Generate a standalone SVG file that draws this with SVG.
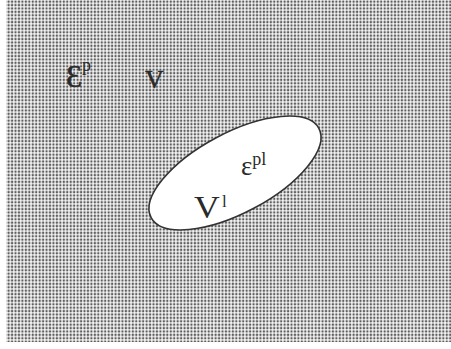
<svg xmlns="http://www.w3.org/2000/svg" width="451" height="349" viewBox="0 0 451 349">
<style>
.t{font-family:"Liberation Serif","DejaVu Serif",serif;fill:#2a2a2a}
</style>
<defs>
<pattern id="dots" patternUnits="userSpaceOnUse" width="3.45" height="3.4">
<rect width="3.45" height="3.4" fill="#f4f4f4"/>
<circle cx="1.7" cy="1.7" r="1.2" fill="#5e5e5e"/>
</pattern>
</defs>
<rect width="451" height="349" fill="#fff"/>
<g id="bg">
<rect x="6" y="0" width="445" height="342" fill="url(#dots)"/>
</g>
<g id="region-V">
<text class="t" x="66" y="87" font-size="32" stroke="#2a2a2a" stroke-width="0.5">Ɛ<tspan font-size="18" dy="-16" stroke-width="0">p</tspan></text>
<text class="t" x="145" y="88" font-size="26" stroke="#2a2a2a" stroke-width="0.5">V</text>
</g>
<g id="region-Vl">
<ellipse cx="235" cy="173" rx="95" ry="40" transform="rotate(-28 235 173)" fill="#fff" stroke="#333" stroke-width="1.6"/>
<text class="t" x="194" y="218" font-size="31" transform="translate(194 0) scale(1.15 1) translate(-194 0)">V</text>
<text class="t" x="222" y="207" font-size="17">l</text>
<text class="t" x="241" y="175" font-size="27">ε<tspan font-size="18" dy="-10">pl</tspan></text>
</g>
</svg>
